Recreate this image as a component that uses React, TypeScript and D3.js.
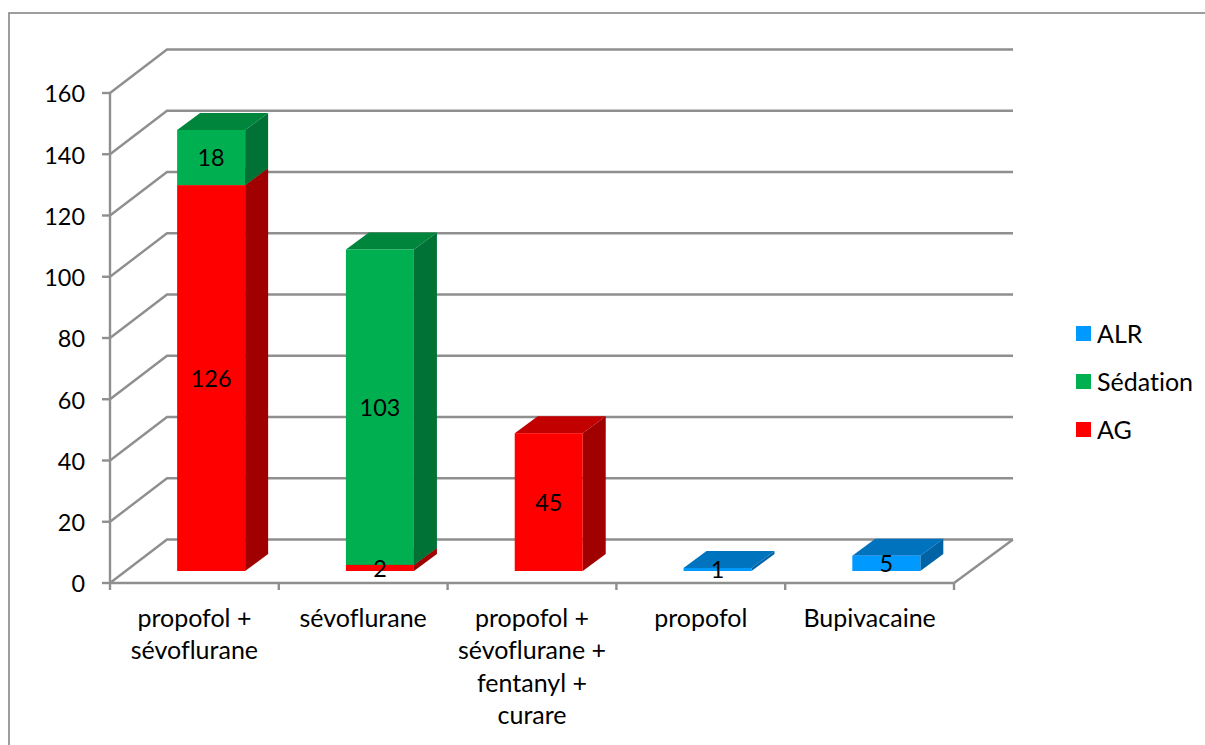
import React from "react";
import * as d3 from "d3";

const categories = [
  ["propofol +", "sévoflurane"],
  ["sévoflurane"],
  ["propofol +", "sévoflurane +", "fentanyl +", "curare"],
  ["propofol"],
  ["Bupivacaine"],
];
const categoryKeys = categories.map((c) => c.join(" "));
const tickValues = [0, 20, 40, 60, 80, 100, 120, 140, 160];
const agValues = [126, 2, 45, 0, 0];
const sedationValues = [18, 103, 0, 0, 0];
const alrValues = [0, 0, 0, 1, 5];

const series = [
  { name: "AG", values: agValues, front: "#ff0000", top: "#c20000", side: "#a00000" },
  { name: "Sédation", values: sedationValues, front: "#00b050", top: "#00853d", side: "#007236" },
  { name: "ALR", values: alrValues, front: "#0099ff", top: "#0073bf", side: "#0063a6" },
];
const legendOrder = ["ALR", "Sédation", "AG"];

const FONT = "Lato, 'Open Sans', sans-serif";
const TEXT_SIZE = 25;
const NUMBER_SIZE = 23.4;
const LINE = "#8f8f8f";
const DARK = "#868686";

// Wall depth offset; the floor's far right corner sits slightly further out.
const depthX = 57;
const depthXRight = 59;
const depthY = 43.5;
// Bars stand part-way into the floor and have their own depth.
const floorInsetY = 12;
const floorInsetX = (floorInsetY / depthY) * depthX + 1;
const barDepthY = 17;
const barDepthX = 23;
const barWidth = 68;

const y = d3.scaleLinear().domain([0, 160]).range([583, 93]);
const x = d3.scaleBand<string>().domain(categoryKeys).range([110, 954]).paddingInner(0).paddingOuter(0);

const poly = (pts: [number, number][]) => d3.line()(pts) + "Z";

export default function App() {
  const stacks = categoryKeys.map((key, i) => {
    const center = (x(key) as number) + x.bandwidth() / 2 + floorInsetX;
    let cum = 0;
    const segs = series
      .filter((s) => s.values[i] > 0)
      .map((s) => {
        const v = s.values[i];
        const seg = { s, v, start: cum, end: cum + v };
        cum += v;
        return seg;
      });
    return { key, center, segs };
  });

  // Bar baseline sits above the floor's front edge by the inset.
  const by = (v: number) => y(v) - floorInsetY;
  const [xMin, xMax] = x.range();

  return (
    <svg
      width={1205}
      height={745}
      viewBox="0 0 1205 745"
      style={{ position: "absolute", left: 0, top: 0, background: "#fff", fontVariantLigatures: "none" }}
      fontFamily={FONT}
      fontSize={TEXT_SIZE}
      fill="#000"
    >
      {/* chart frame runs past the page's right and bottom edges */}
      <rect x={9} y={13} width={1230} height={770} fill="#fff" stroke={DARK} strokeWidth={1.6} />

      {/* back wall and left wall gridlines */}
      {tickValues.map((t) => (
        <g key={t} fill="none" stroke={LINE} strokeWidth={2.4}>
          <path d={d3.line()([[xMin, y(t)], [xMin + depthX, y(t) - depthY], [xMax + depthXRight, y(t) - depthY]]) as string} />
          <line x1={xMin - 8} x2={xMin} y1={y(t)} y2={y(t)} />
        </g>
      ))}

      {/* floor front and right edges, y axis, category ticks */}
      <g fill="none" stroke={LINE} strokeWidth={2.4}>
        <path d={d3.line()([[xMin, y(0)], [xMax, y(0)], [xMax + depthXRight, y(0) - depthY]]) as string} />
        <line x1={xMin} x2={xMin} y1={y(160)} y2={y(0)} />
        {[...categoryKeys.map((k) => x(k) as number), xMax].map((tx) => (
          <line key={tx} x1={tx} x2={tx} y1={y(0)} y2={y(0) + 7} />
        ))}
      </g>

      {/* stacked 3D columns */}
      {stacks.map(({ key, center, segs }) => {
        const l = center - barWidth / 2;
        const r = center + barWidth / 2;
        return (
          <g key={key}>
            {segs.map(({ s, start, end }) => {
              const y0 = by(start);
              const y1 = by(end);
              return (
                <g key={s.name}>
                  <path d={poly([[l, y1], [r, y1], [r + barDepthX, y1 - barDepthY], [l + barDepthX, y1 - barDepthY]])} fill={s.top} />
                  <path d={poly([[r, y0], [r + barDepthX, y0 - barDepthY], [r + barDepthX, y1 - barDepthY], [r, y1]])} fill={s.side} />
                  <rect x={l} y={y1} width={barWidth} height={y0 - y1} fill={s.front} />
                </g>
              );
            })}
          </g>
        );
      })}

      {/* data labels */}
      {stacks.map(({ key, center, segs }) =>
        segs.map(({ s, v, start, end }) => (
          <text
            key={key + s.name}
            x={center}
            y={(by(start) + by(end)) / 2}
            dy="0.38em"
            textAnchor="middle"
            fontSize={NUMBER_SIZE}
          >
            {v}
          </text>
        ))
      )}

      {/* y axis labels */}
      {tickValues.map((t) => (
        <text key={t} x={85} y={y(t)} dy="0.4em" textAnchor="end" fontSize={NUMBER_SIZE}>
          {t}
        </text>
      ))}

      {/* category labels */}
      {categories.map((lines, i) => (
        <text key={categoryKeys[i]} x={(x(categoryKeys[i]) as number) + x.bandwidth() / 2} textAnchor="middle">
          {lines.map((ln, j) => (
            <tspan key={j} x={(x(categoryKeys[i]) as number) + x.bandwidth() / 2} y={627 + j * 32.3}>
              {ln}
            </tspan>
          ))}
        </text>
      ))}

      {/* legend */}
      {legendOrder.map((name, i) => {
        const s = series.find((d) => d.name === name)!;
        const ly = 334 + i * 48;
        return (
          <g key={name}>
            <rect x={1076} y={ly - 8} width={15} height={15} fill={s.front} />
            <text x={1097} y={ly} dy="0.36em">
              {name}
            </text>
          </g>
        );
      })}
    </svg>
  );
}
